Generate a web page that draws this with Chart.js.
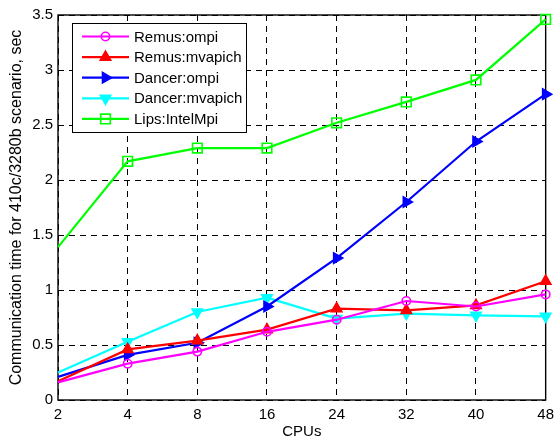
<!DOCTYPE html>
<html>
<head>
<meta charset="utf-8">
<script src="https://cdn.jsdelivr.net/npm/chart.js@4"></script>
<style>
  body { margin: 0; background: #fff; }
  #wrap { width: 560px; height: 442px; }
</style>
</head>
<body>
<div id="wrap"><canvas id="commChart" width="560" height="442"></canvas></div>
<script>
// chart data
const cpuLabels = ['2', '4', '8', '16', '24', '32', '40', '48'];
const remusOmpi = [0.16, 0.33, 0.44, 0.62, 0.73, 0.90, 0.85, 0.96];
const remusMvapich = [0.17, 0.46, 0.54, 0.64, 0.83, 0.815, 0.86, 1.08];
const dancerOmpi = [0.21, 0.41, 0.52, 0.85, 1.29, 1.80, 2.35, 2.78];
const dancerMvapich = [0.25, 0.53, 0.80, 0.93, 0.74, 0.785, 0.77, 0.76];
const lipsIntelMpi = [1.39, 2.17, 2.29, 2.29, 2.52, 2.71, 2.91, 3.46];

const FONT = '"Liberation Sans", Arial, sans-serif';

function series(label, data, color, style, radius, rotation, filled) {
    return {
        label: label,
        data: data,
        borderColor: color,
        backgroundColor: filled ? color : 'rgba(0,0,0,0)',
        borderWidth: 2.2,
        pointStyle: style,
        pointRotation: rotation,
        // first point sits on the left border, no marker drawn there
        pointRadius: ctx => ctx.dataIndex === 0 ? 0 : radius,
        legendRadius: radius,
        pointBorderWidth: 1.6,
        pointHoverRadius: radius,
        tension: 0,
        clip: 8
    };
}

// border around the plot area
const frame = {
    id: 'frame',
    beforeDatasetsDraw(chart) {
        const a = chart.chartArea;
        const c = chart.ctx;
        c.save();
        c.strokeStyle = '#000';
        c.lineWidth = 1.4;
        c.strokeRect(a.left, a.top, a.right - a.left, a.bottom - a.top);
        c.restore();
    }
};

// matlab-like legend box inside the plot
const boxLegend = {
    id: 'boxLegend',
    afterDraw(chart) {
        const c = chart.ctx;
        const x0 = 72, y0 = 23, w = 174, h = 109, rowH = 20.6;
        c.save();
        c.fillStyle = '#fff';
        c.fillRect(x0, y0, w, h);
        c.strokeStyle = '#000';
        c.lineWidth = 1;
        c.strokeRect(x0 + 0.5, y0 + 0.5, w, h);
        c.font = '15px ' + FONT;
        c.textBaseline = 'middle';
        chart.data.datasets.forEach((ds, i) => {
            const y = y0 + 13.5 + i * rowH;
            c.strokeStyle = ds.borderColor;
            c.lineWidth = ds.borderWidth;
            c.beginPath();
            c.moveTo(x0 + 10, y);
            c.lineTo(x0 + 57, y);
            c.stroke();
            c.fillStyle = ds.backgroundColor;
            c.lineWidth = ds.pointBorderWidth;
            Chart.helpers.drawPoint(c, {
                pointStyle: ds.pointStyle,
                rotation: ds.pointRotation,
                radius: ds.legendRadius,
                borderWidth: ds.pointBorderWidth
            }, x0 + 33.5, y);
            c.fillStyle = '#000';
            c.fillText(ds.label, x0 + 62, y + 1);
        });
        c.restore();
    }
};

new Chart(document.getElementById('commChart'), {
    type: 'line',
    data: {
        labels: cpuLabels,
        datasets: [
            series('Remus:ompi', remusOmpi, '#ff00ff', 'circle', 4.2, 0, false),
            series('Remus:mvapich', remusMvapich, '#ff0000', 'triangle', 6, 0, true),
            series('Dancer:ompi', dancerOmpi, '#0000ff', 'triangle', 6, 90, true),
            series('Dancer:mvapich', dancerMvapich, '#00ffff', 'triangle', 6, 180, true),
            series('Lips:IntelMpi', lipsIntelMpi, '#00ff00', 'rect', 6.8, 0, false)
        ]
    },
    options: {
        responsive: false,
        animation: false,
        layout: { padding: { left: 0, top: 15, right: 10, bottom: 0 } },
        plugins: {
            legend: { display: false },
            tooltip: { enabled: false }
        },
        scales: {
            x: {
                type: 'category',
                offset: false,
                afterFit: s => { s.height = 42; },
                grid: { color: '#000', lineWidth: 1, drawTicks: false },
                border: { display: false, dash: [6, 5] },
                ticks: { color: '#000', font: { family: FONT, size: 15 }, padding: 6, maxRotation: 0 },
                title: { display: true, text: 'CPUs', color: '#000', font: { family: FONT, size: 15 }, padding: { top: 0, bottom: 1 } }
            },
            y: {
                min: 0,
                max: 3.5,
                afterFit: s => { s.width = 58; },
                grid: { color: '#000', lineWidth: 1, drawTicks: false },
                border: { display: false, dash: [6, 5] },
                ticks: {
                    stepSize: 0.5,
                    color: '#000',
                    font: { family: FONT, size: 15 },
                    padding: 5,
                    callback: v => String(Math.round(v * 10) / 10)
                },
                title: { display: true, text: 'Communication time for 410c/3280b scenario, sec', color: '#000', font: { family: FONT, size: 16 }, padding: { top: 7, bottom: 0 } }
            }
        }
    },
    plugins: [frame, boxLegend]
});
</script>
</body>
</html>
